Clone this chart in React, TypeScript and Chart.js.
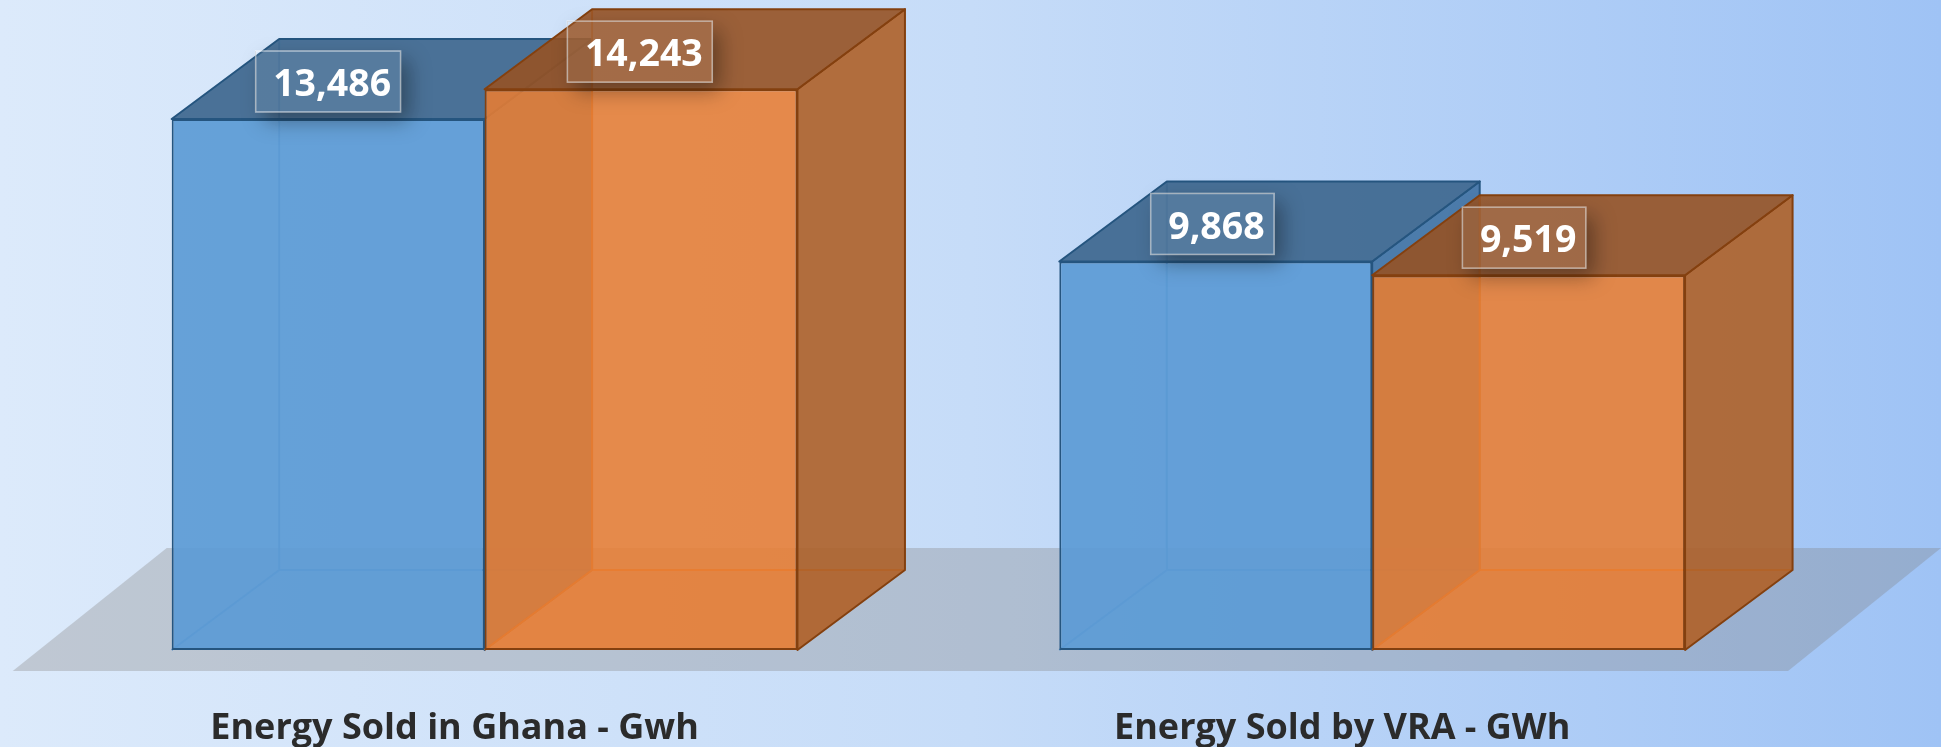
import React, { useEffect, useRef } from "react";
import { Chart, registerables } from "chart.js";

Chart.register(...registerables);

const categories = ["Energy Sold in Ghana - Gwh", "Energy Sold by VRA - GWh"];
const seriesBlue = [13486, 9868];
const seriesOrange = [14243, 9519];

const DX = 107.5;
const DY = -80;

type Faces = { top: string; side: string; edge: string; inner: string; floor: string };
const faces: Faces[] = [
  { top: "rgba(62,103,142,0.92)", side: "rgba(62,112,160,0.88)", edge: "#25557f", inner: "rgba(62,128,190,0.8)", floor: "rgba(91,155,213,0.15)" },
  { top: "rgba(150,82,36,0.9)", side: "rgba(174,96,40,0.9)", edge: "#84400f", inner: "rgba(225,110,30,0.85)", floor: "rgba(237,125,49,0.12)" },
];

function poly(ctx: CanvasRenderingContext2D, pts: number[][], fill?: string, stroke?: string, lw = 2) {
  ctx.beginPath();
  pts.forEach((p, i) => (i ? ctx.lineTo(p[0], p[1]) : ctx.moveTo(p[0], p[1])));
  ctx.closePath();
  if (fill) {
    ctx.fillStyle = fill;
    ctx.fill();
  }
  if (stroke) {
    ctx.strokeStyle = stroke;
    ctx.lineWidth = lw;
    ctx.lineJoin = "round";
    ctx.stroke();
  }
}

function barBox(el: any) {
  return { x0: el.x - el.width / 2, x1: el.x + el.width / 2, yt: el.y, yb: el.base };
}

function drawBack(chart: any, index: number) {
  const { ctx } = chart;
  const f = faces[index];
  ctx.save();
  chart.getDatasetMeta(index).data.forEach((el: any) => {
    const { x0, x1, yt, yb } = barBox(el);
    poly(ctx, [[x0, yb], [x1, yb], [x1 + DX, yb + DY], [x0 + DX, yb + DY]], f.floor);
    ctx.strokeStyle = f.inner;
    ctx.lineWidth = 2;
    ctx.beginPath();
    ctx.moveTo(x0, yb);
    ctx.lineTo(x0 + DX, yb + DY);
    ctx.lineTo(x0 + DX, yt + DY);
    ctx.moveTo(x0 + DX, yb + DY);
    ctx.lineTo(x1 + DX, yb + DY);
    ctx.stroke();
  });
  ctx.restore();
}

function drawFront(chart: any, index: number) {
  const { ctx } = chart;
  const f = faces[index];
  ctx.save();
  chart.getDatasetMeta(index).data.forEach((el: any) => {
    const { x0, x1, yt, yb } = barBox(el);
    poly(ctx, [[x1, yt], [x1 + DX, yt + DY], [x1 + DX, yb + DY], [x1, yb]], f.side, f.edge);
    poly(ctx, [[x0, yt], [x0 + DX, yt + DY], [x1 + DX, yt + DY], [x1, yt]], f.top, f.edge);
  });
  ctx.restore();
}

function drawLabels(chart: any) {
  const { ctx } = chart;
  ctx.save();
  ctx.font = "700 37.5px 'Open Sans'";
  ctx.textAlign = "center";
  ctx.textBaseline = "middle";
  [0, 1].forEach((ds) => {
    chart.getDatasetMeta(ds).data.forEach((el: any, i: number) => {
      const v = chart.data.datasets[ds].data[i] as number;
      const label = v.toLocaleString("en-US");
      const w = ctx.measureText(label).width + 27;
      const h = 61;
      const cx = el.x - ((el.x - 328) * 4.5) / 1200;
      const cy = el.y - 37.5;
      const l = cx - w / 2;
      const t = cy - h / 2;
      ctx.save();
      ctx.beginPath();
      ctx.rect(0, 0, chart.width, chart.height);
      ctx.rect(l, t, w, h);
      ctx.clip("evenodd");
      ctx.shadowColor = "rgba(0,0,0,0.36)";
      ctx.shadowBlur = 20;
      ctx.shadowOffsetX = 8;
      ctx.shadowOffsetY = 9;
      ctx.fillStyle = "#000";
      ctx.fillRect(l, t, w, h);
      ctx.restore();
      ctx.fillStyle = "rgba(255,255,255,0.07)";
      ctx.fillRect(l, t, w, h);
      ctx.strokeStyle = "rgba(255,255,255,0.55)";
      ctx.lineWidth = 1.5;
      ctx.strokeRect(l, t, w, h);
      ctx.fillStyle = "#ffffff";
      ctx.fillText(label, cx + 4, cy + 4);
    });
  });
  ctx.restore();
}

const box3d = {
  id: "box3d",
  beforeDatasetsDraw(chart: any) {
    const { ctx, chartArea: a } = chart;
    ctx.save();
    poly(
      ctx,
      [
        [a.left - 28, a.bottom + 21],
        [a.left + 126, a.bottom - 102],
        [a.right + 125, a.bottom - 102],
        [a.right - 28, a.bottom + 21],
      ],
      "rgba(125,122,118,0.3)"
    );
    ctx.restore();
    // Left series must paint first so the right one overlaps it.
    [0, 1].forEach((i) => {
      drawBack(chart, i);
      chart.getDatasetMeta(i).controller.draw();
      drawFront(chart, i);
    });
    drawLabels(chart);
    return false;
  },
};

export default function App() {
  const ref = useRef<HTMLCanvasElement>(null);
  useEffect(() => {
    const chart = new Chart(ref.current!, {
      type: "bar",
      data: {
        labels: categories,
        datasets: [
          {
            label: "Blue",
            data: seriesBlue,
            backgroundColor: "rgba(92,155,213,0.93)",
            borderColor: "#25557f",
            borderWidth: 2,
            borderSkipped: false,
          },
          {
            label: "Orange",
            data: seriesOrange,
            backgroundColor: "rgba(232,125,50,0.88)",
            borderColor: "#84400f",
            borderWidth: 2,
            borderSkipped: false,
          },
        ],
      },
      options: {
        animation: false,
        responsive: false,
        layout: { padding: { left: 40.75, right: 125, top: 20, bottom: 0 } },
        datasets: { bar: { categoryPercentage: 0.705, barPercentage: 1 } },
        plugins: { legend: { display: false }, tooltip: { enabled: false } },
        scales: {
          x: {
            grid: { display: false },
            border: { display: false },
            afterFit(s: any) {
              s.height = 97;
            },
            ticks: {
              padding: 49,
              labelOffset: -30,
              maxRotation: 0,
              autoSkip: false,
              color: "#2b2b2b",
              font: { family: "'Open Sans'", size: 36, weight: "bold" },
            },
          },
          y: { display: false, min: 0, max: 16000 },
        },
      },
      plugins: [box3d],
    } as any);
    return () => chart.destroy();
  }, []);
  return (
    <div
      style={{
        position: "absolute",
        left: 0,
        top: 0,
        width: 1941,
        height: 747,
        overflow: "hidden",
        background: "linear-gradient(90deg,#dceafb 0%,#c6dcf8 50%,#9fc3f5 100%)",
      }}
    >
      <canvas ref={ref} width={1941} height={747} style={{ display: "block" }} />
    </div>
  );
}
